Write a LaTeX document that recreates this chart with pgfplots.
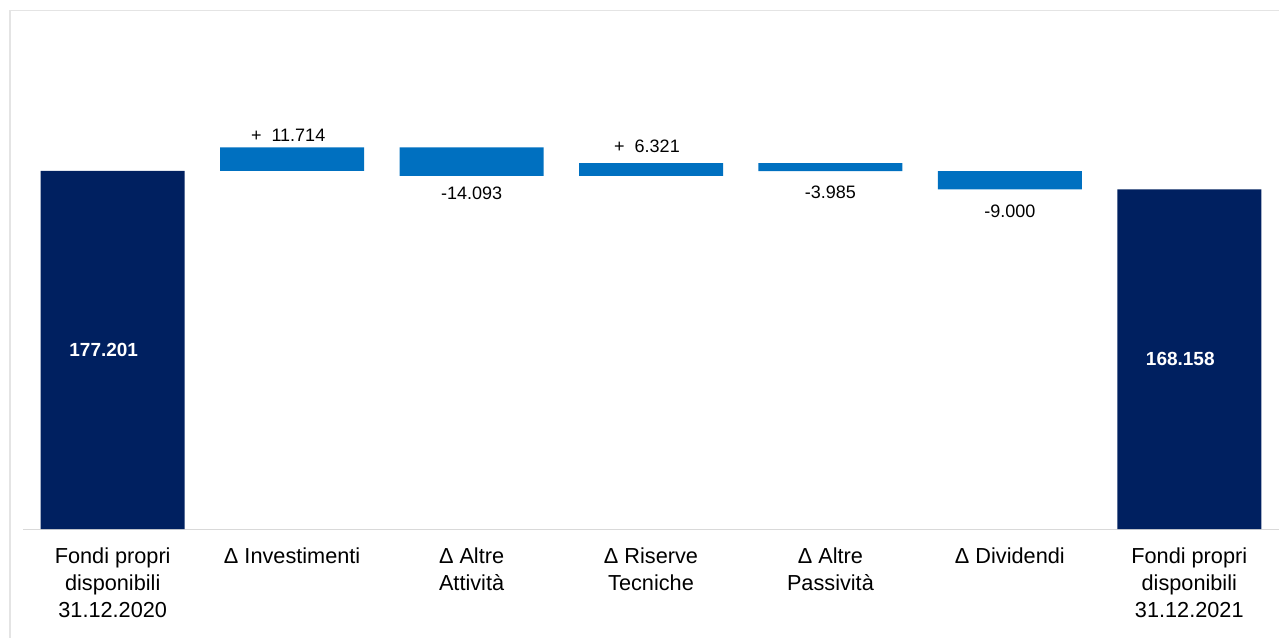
\documentclass[border=0pt]{standalone}
\usepackage{pgfplots}
\pgfplotsset{compat=1.18}
\usepackage{fontspec}
\setmainfont{Liberation Sans}
\definecolor{navy}{HTML}{002060}
\definecolor{azure}{HTML}{0070C0}
\definecolor{framegray}{HTML}{E4E4E4}
\definecolor{basegray}{HTML}{D9D9D9}
\newcommand{\ticklabfont}{\fontsize{21.7bp}{27bp}\selectfont}
\newcommand{\datalabfont}{\fontsize{18bp}{22bp}\selectfont}
\pgfplotsset{
  wfaxis/.style={
    at={(0,0)}, anchor=south west,
    scale only axis,
    width=1256bp, height=518bp,
    xmin=-0.5, xmax=6.5,
    ymin=0, ymax=256.4,
    clip=false,
  },
  uplabel/.style={draw=none, mark=none, nodes near coords,
    nodes near coords style={font=\datalabfont, text=black, anchor=south, inner sep=0pt, yshift=#1, xshift=-4bp}},
  downlabel/.style={draw=none, mark=none, nodes near coords,
    nodes near coords style={font=\datalabfont, text=black, anchor=north, inner sep=0pt, yshift=-#1}},
}

\begin{document}
\begin{tikzpicture}
\useasboundingbox (-23bp,-109bp) rectangle (1256bp,529bp);
% light frame around the chart area, cut by the image border
\draw[framegray, line width=1.5bp] (-13bp,-130bp) -- (-13bp,518.5bp) -- (1280bp,518.5bp);
% bars
\begin{axis}[
  wfaxis,
  ybar stacked,
  bar width=144bp,
  axis x line*=bottom,
  axis y line=none,
  x axis line style={basegray, line width=1bp},
  major tick length=0pt,
  ytick=\empty,
  xtick={0,...,6},
  xticklabels={
    {Fondi propri\\disponibili\\31.12.2020},
    {Δ Investimenti},
    {Δ Altre\\Attività},
    {Δ Riserve\\Tecniche},
    {Δ Altre\\Passività},
    {Δ Dividendi},
    {Fondi propri\\disponibili\\31.12.2021}},
  xticklabel style={align=center, font=\ticklabfont, text=black, anchor=north, yshift=-15bp},
]
% invisible base of each floating bar
\addplot[draw=none, fill=none] coordinates {
  (0,0) (1,177.201) (2,174.822) (3,174.822) (4,177.158) (5,168.158) (6,0)};
% totals
\addplot[draw=none, fill=navy] coordinates {
  (0,177.201) (1,0) (2,0) (3,0) (4,0) (5,0) (6,168.158)};
% changes
\addplot[draw=none, fill=azure] coordinates {
  (0,0) (1,11.714) (2,14.093) (3,6.321) (4,3.985) (5,9.000) (6,0)};
\end{axis}
% data labels
\begin{axis}[wfaxis, hide axis, point meta=explicit symbolic]
\addplot[uplabel=6bp] coordinates {(1,188.915) [+\ \ 11.714]};
\addplot[uplabel=10.5bp] coordinates {(3,181.143) [+\ \ 6.321]};
\addplot[downlabel=10.5bp] coordinates {(2,174.822) [-14.093]};
\addplot[downlabel=15bp] coordinates {(4,177.158) [-3.985] (5,168.158) [-9.000]};
\addplot[draw=none, mark=none, nodes near coords,
  nodes near coords style={font=\bfseries\fontsize{19bp}{22bp}\selectfont, text=white, anchor=center, inner sep=0pt, xshift=-9bp}]
  coordinates {(0,88.6005) [177.201] (6,84.079) [168.158]};
\end{axis}
\end{tikzpicture}
\end{document}
